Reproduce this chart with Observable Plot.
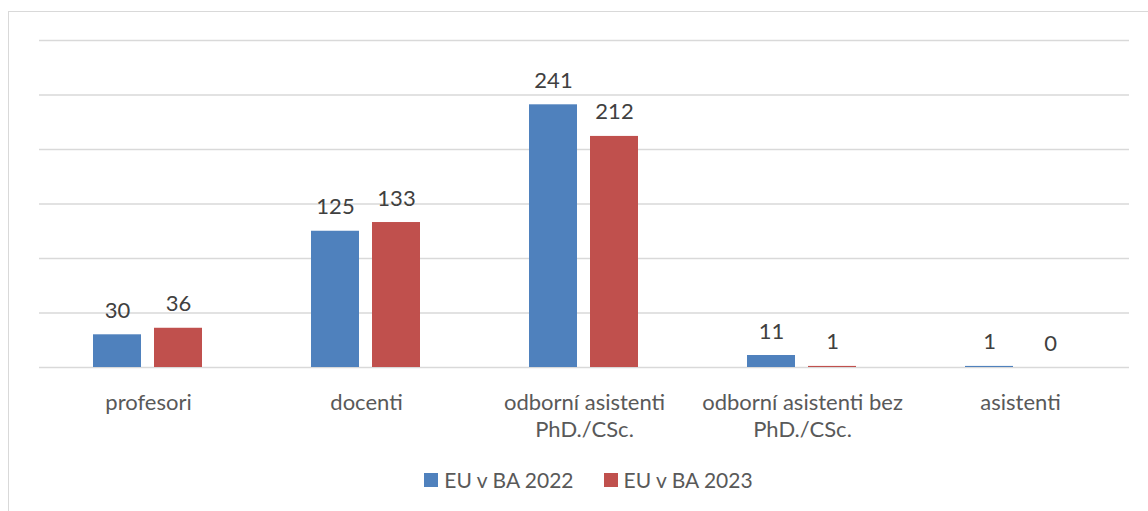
<!DOCTYPE html>
<html>
<head>
<meta charset="utf-8">
<script src="https://cdn.jsdelivr.net/npm/d3@7"></script>
<script src="https://cdn.jsdelivr.net/npm/@observablehq/plot@0.6"></script>
<style>
  html, body { margin: 0; padding: 0; background: #fff; }
  #wrap { position: relative; width: 1148px; height: 511px; overflow: hidden; font-family: Lato, sans-serif; }
  #frame { position: absolute; left: 8px; top: 11px; width: 1200px; height: 600px; border: 1.5px solid #d9d9d9; box-sizing: border-box; }
  #chart { position: absolute; left: 0; top: 0; }
  #legend { position: absolute; top: 467px; left: 0; width: 1177px; display: flex; justify-content: center; gap: 30px; font-size: 21px; color: #595959; }
  .item { display: flex; align-items: center; gap: 6px; }
  .sw { width: 14px; height: 14px; display: inline-block; }
</style>
</head>
<body>
<div id="wrap">
  <div id="frame"></div>
  <div id="chart"></div>
  <div id="legend"></div>
</div>
<script>
const categories = ["profesori", "docenti", "odborní asistenti PhD./CSc.", "odborní asistenti bez PhD./CSc.", "asistenti"];
const tickLabels = ["profesori", "docenti", "odborní asistenti\nPhD./CSc.", "odborní asistenti bez\nPhD./CSc.", "asistenti"];
const series = ["EU v BA 2022", "EU v BA 2023"];
const values2022 = [30, 125, 241, 11, 1];
const values2023 = [36, 133, 212, 1, 0];
const colors = ["#4f81bd", "#c0504d"];
const yTicks = [0, 50, 100, 150, 200, 250, 300];

const data = categories.flatMap((c, i) => [
  {cat: c, series: series[0], value: values2022[i]},
  {cat: c, series: series[1], value: values2023[i]}
]);

const chart = Plot.plot({
  width: 1148,
  height: 450,
  marginLeft: 38,
  marginRight: 18,
  marginTop: 40,
  marginBottom: 83,
  style: {fontFamily: "Lato, sans-serif", fontSize: "22px", color: "#595959", background: "transparent"},
  fx: {domain: categories, padding: 0, label: null},
  x: {domain: series, paddingInner: 0.21, paddingOuter: 0.866, axis: null},
  y: {domain: [0, 300], axis: null},
  color: {domain: series, range: colors},
  marks: [
    Plot.ruleY(yTicks, {stroke: "#d9d9d9", strokeWidth: 1.5}),
    Plot.barY(data, {fx: "cat", x: "series", y: "value", fill: "series"}),
    Plot.text(data, {fx: "cat", x: "series", y: "value", text: d => String(d.value), lineAnchor: "bottom", dy: -17, fill: "#404040", fontSize: 22}),
    Plot.axisFx({anchor: "bottom", label: null, tickSize: 0, tickPadding: 23, lineHeight: 1.23, fontSize: 22, fill: "#595959",
      tickFormat: c => tickLabels[categories.indexOf(c)]})
  ]
});
document.getElementById("chart").appendChild(chart);

const legend = document.getElementById("legend");
series.forEach((s, i) => {
  const item = document.createElement("div");
  item.className = "item";
  const sw = document.createElement("span");
  sw.className = "sw";
  sw.style.background = colors[i];
  const t = document.createElement("span");
  t.textContent = s;
  item.appendChild(sw);
  item.appendChild(t);
  legend.appendChild(item);
});
</script>
</body>
</html>
